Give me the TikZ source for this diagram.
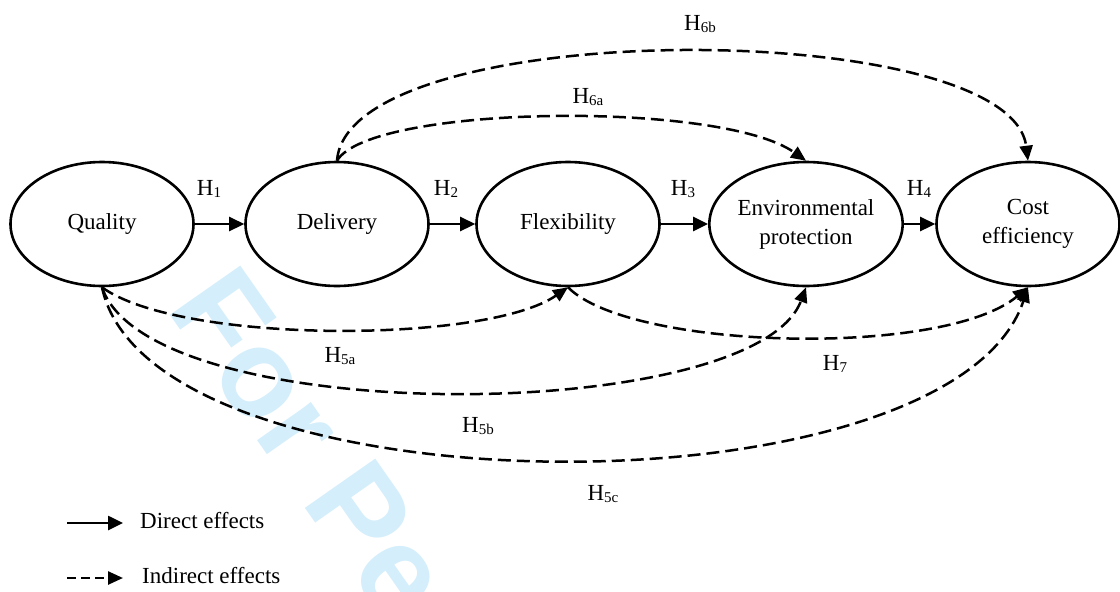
\documentclass[tikz,border=0pt]{standalone}
\usepackage{fontspec}
\setmainfont{Liberation Serif}
\newfontfamily\wmfont{Liberation Sans}
\usetikzlibrary{arrows.meta,shapes.geometric}
\definecolor{wmblue}{RGB}{212,238,251}
\newcommand\hyp[1]{H\raisebox{-0.25ex}{\fontsize{15}{15}\selectfont #1}}
\begin{document}
\begin{tikzpicture}[x=1pt,y=-1pt,
  every node/.style={font=\fontsize{23}{29}\selectfont},
  construct/.style={ellipse, draw, line width=2.6pt, minimum width=183pt, minimum height=124pt, inner sep=0pt, align=center},
  direct/.style={line width=2.6pt, -{Triangle[length=15pt,width=14pt]}},
  indirect/.style={line width=2.5pt, dash pattern=on 13pt off 6pt, -{Triangle[length=15pt,width=13pt]}},
  hlabel/.style={anchor=base, inner sep=0pt},
  legendtext/.style={anchor=base west, inner sep=0pt}]
\useasboundingbox (0,0) rectangle (1120,592);
% watermark
\begin{scope}
  \clip (0,0) rectangle (1120,592);
  \node[anchor=base west, rotate=-55, inner sep=0pt, text=wmblue,
        font=\wmfont\bfseries\fontsize{125}{125}\selectfont] (wmark) at (165,308) {For Peer Review};
\end{scope}
% constructs
\node[construct] (Q) at (102,224) {Quality};
\node[construct] (D) at (337,224) {Delivery};
\node[construct] (F) at (568,224) {Flexibility};
\node[construct] (E) at (806,224) {Environmental\\protection};
\node[construct] (C) at (1028,224) {Cost\\efficiency};
% direct effects
\draw[direct] (Q) -- (D);
\draw[direct] (D) -- (F);
\draw[direct] (F) -- (E);
\draw[direct] (E) -- (C);
\node[hlabel] (h1) at (209,195) {\hyp{1}};
\node[hlabel] (h2) at (446,195) {\hyp{2}};
\node[hlabel] (h3) at (683,195) {\hyp{3}};
\node[hlabel] (h4) at (919,195) {\hyp{4}};
% indirect effects
\draw[indirect] (D.north) .. controls (370,105) and (720,100) .. (E.north);
\draw[indirect] (D.north) .. controls (348,15) and (1010,16) .. (C.north);
\draw[indirect] (Q.south) .. controls (180,344) and (486,344) .. (F.south);
\draw[indirect] (Q.south) .. controls (150,430) and (755,425) .. (E.south);
\draw[indirect] (Q.south) .. controls (150,515) and (950,520) .. (C.south);
\draw[indirect] (F.south) .. controls (630,350) and (943,358) .. (C.south);
\node[hlabel] (h6b) at (700,30) {\hyp{6b}};
\node[hlabel] (h6a) at (588,103) {\hyp{6a}};
\node[hlabel] (h5a) at (340,362) {\hyp{5a}};
\node[hlabel] (h5b) at (478,432) {\hyp{5b}};
\node[hlabel] (h5c) at (603,500) {\hyp{5c}};
\node[hlabel] (h7) at (835,370) {\hyp{7}};
% legend
\coordinate (l1s) at (67,523);
\coordinate (l1e) at (123,523);
\coordinate (l2s) at (67,578);
\coordinate (l2e) at (123,578);
\draw[direct] (l1s) -- (l1e);
\draw[indirect, dash pattern=on 9pt off 5pt] (l2s) -- (l2e);
\node[legendtext] (lt1) at (140,528) {Direct effects};
\node[legendtext] (lt2) at (142,583) {Indirect effects};
\end{tikzpicture}
\end{document}
